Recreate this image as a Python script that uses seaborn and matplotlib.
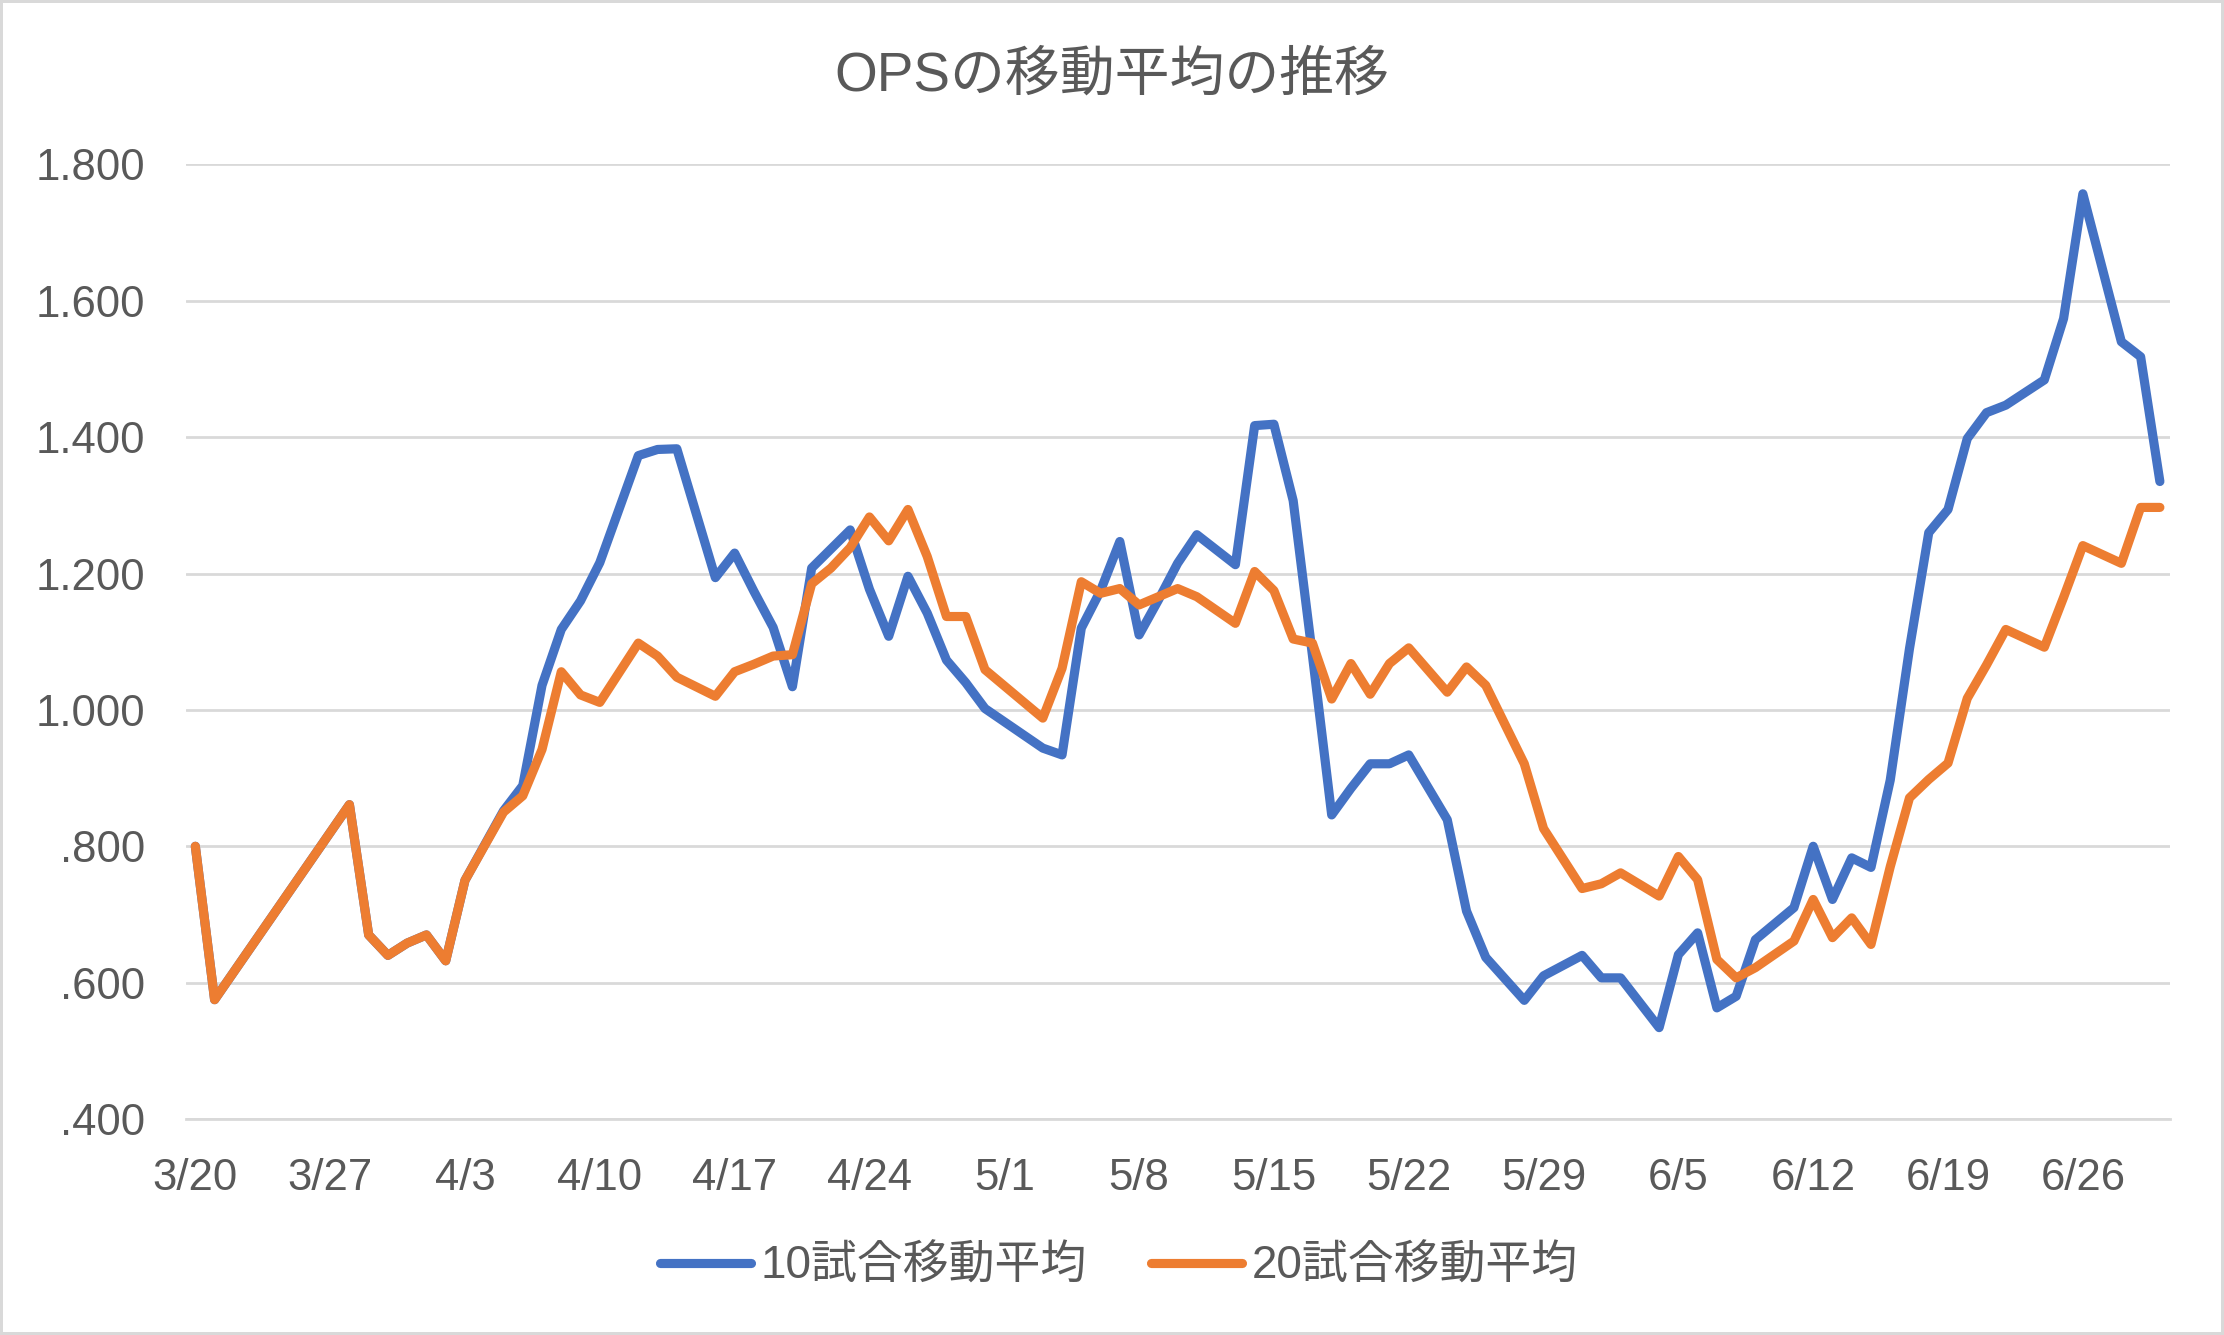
import matplotlib
matplotlib.use("Agg")
import matplotlib.pyplot as plt
import matplotlib.dates as mdates
from matplotlib.ticker import FuncFormatter, FixedLocator
import seaborn as sns
import pandas as pd
import numpy as np

# ---- data ----
game_dates = [
    "2024-03-20", "2024-03-21", "2024-03-28", "2024-03-29", "2024-03-30", "2024-03-31",
    "2024-04-01", "2024-04-02", "2024-04-03", "2024-04-05", "2024-04-06", "2024-04-07",
    "2024-04-08", "2024-04-09", "2024-04-10", "2024-04-12", "2024-04-13", "2024-04-14",
    "2024-04-16", "2024-04-17", "2024-04-18", "2024-04-19", "2024-04-20", "2024-04-21",
    "2024-04-22", "2024-04-23", "2024-04-24", "2024-04-25", "2024-04-26", "2024-04-27",
    "2024-04-28", "2024-04-29", "2024-04-30", "2024-05-03", "2024-05-04", "2024-05-05",
    "2024-05-06", "2024-05-07", "2024-05-08", "2024-05-09", "2024-05-10", "2024-05-11",
    "2024-05-13", "2024-05-14", "2024-05-15", "2024-05-16", "2024-05-17", "2024-05-18",
    "2024-05-19", "2024-05-20", "2024-05-21", "2024-05-22", "2024-05-24", "2024-05-25",
    "2024-05-26", "2024-05-28", "2024-05-29", "2024-05-31", "2024-06-01", "2024-06-02",
    "2024-06-04", "2024-06-05", "2024-06-06", "2024-06-07", "2024-06-08", "2024-06-09",
    "2024-06-11", "2024-06-12", "2024-06-13", "2024-06-14", "2024-06-15", "2024-06-16",
    "2024-06-17", "2024-06-18", "2024-06-19", "2024-06-20", "2024-06-21", "2024-06-22",
    "2024-06-24", "2024-06-25", "2024-06-26", "2024-06-28", "2024-06-29", "2024-06-30",
]

ops_10 = [
    0.800, 0.575, 0.861, 0.670, 0.640, 0.658,
    0.670, 0.632, 0.750, 0.852, 0.889, 1.036,
    1.118, 1.160, 1.216, 1.373, 1.382, 1.383,
    1.194, 1.230, 1.174, 1.121, 1.034, 1.208,
    1.236, 1.264, 1.177, 1.108, 1.196, 1.142,
    1.073, 1.040, 1.002, 0.944, 0.934, 1.120,
    1.175, 1.247, 1.110, 1.161, 1.215, 1.257,
    1.213, 1.417, 1.419, 1.307, 1.080, 0.846,
    0.885, 0.921, 0.921, 0.934, 0.839, 0.705,
    0.637, 0.574, 0.610, 0.640, 0.607, 0.607,
    0.534, 0.641, 0.673, 0.563, 0.580, 0.663,
    0.710, 0.800, 0.722, 0.783, 0.769, 0.897,
    1.090, 1.260, 1.294, 1.398, 1.436, 1.447,
    1.484, 1.574, 1.757, 1.540, 1.518, 1.335,
]

ops_20 = [
    0.800, 0.575, 0.861, 0.670, 0.640, 0.658,
    0.670, 0.632, 0.750, 0.850, 0.874, 0.942,
    1.056, 1.022, 1.011, 1.098, 1.079, 1.048,
    1.020, 1.056, 1.067, 1.079, 1.081, 1.185,
    1.208, 1.238, 1.283, 1.248, 1.294, 1.225,
    1.137, 1.137, 1.059, 0.988, 1.061, 1.188,
    1.171, 1.178, 1.154, 1.166, 1.178, 1.166,
    1.127, 1.203, 1.175, 1.104, 1.098, 1.016,
    1.068, 1.023, 1.068, 1.091, 1.026, 1.063,
    1.036, 0.921, 0.826, 0.738, 0.745, 0.761,
    0.727, 0.785, 0.751, 0.634, 0.607, 0.622,
    0.661, 0.722, 0.666, 0.695, 0.656, 0.770,
    0.871, 0.898, 0.922, 1.017, 1.066, 1.118,
    1.092, 1.165, 1.241, 1.215, 1.297, 1.297,
]

series_names = ["10試合移動平均", "20試合移動平均"]
series_colors = ["#4472C4", "#ED7D31"]
title_text = "OPSの移動平均の推移"
tick_label_dates = ["2024-03-20", "2024-03-27", "2024-04-03", "2024-04-10", "2024-04-17",
                    "2024-04-24", "2024-05-01", "2024-05-08", "2024-05-15", "2024-05-22",
                    "2024-05-29", "2024-06-05", "2024-06-12", "2024-06-19", "2024-06-26"]
y_ticks = [0.4, 0.6, 0.8, 1.0, 1.2, 1.4, 1.6, 1.8]
x_start, x_end = "2024-03-20", "2024-06-30"

# ---- build long table ----
dts = pd.to_datetime(game_dates)
df = pd.concat([
    pd.DataFrame({"date": dts, "ops": ops_10, "series": series_names[0]}),
    pd.DataFrame({"date": dts, "ops": ops_20, "series": series_names[1]}),
], ignore_index=True)

sns.set_theme(style="white")
plt.rcParams["font.family"] = ["Liberation Sans", "Noto Sans CJK JP", "DejaVu Sans"]
TXT = "#595959"
GRID = "#D9D9D9"
LW = 6.6

fig = plt.figure(figsize=(22.24, 13.35), dpi=100)
fig.patch.set_facecolor("white")
fig.patch.set_edgecolor(GRID)
fig.patch.set_linewidth(3)
ax = fig.add_axes([0.0835, 0.1618, 0.892, 0.715])

sns.lineplot(data=df, x="date", y="ops", hue="series", hue_order=series_names,
             palette=series_colors, linewidth=LW, ax=ax, legend=False, sort=True)
for ln in ax.lines:
    ln.set_solid_capstyle("round")
    ln.set_solid_joinstyle("round")

half = pd.Timedelta(hours=12)
ax.set_xlim(pd.Timestamp(x_start) - half, pd.Timestamp(x_end) + half)
ax.set_ylim(y_ticks[0], y_ticks[-1])

# y axis
ax.set_yticks(y_ticks)
ax.yaxis.set_major_formatter(FuncFormatter(
    lambda v, p: (f"{v:.3f}"[1:] if v < 1 else f"{v:.3f}")))
ax.grid(axis="y", color=GRID, linewidth=2.0)
ax.grid(axis="x", visible=False)
ax.set_axisbelow(True)
ax.tick_params(axis="y", length=0, pad=29, labelsize=31.5, labelcolor=TXT)

# x axis: labels at day centers, tick marks at day boundaries
lab = pd.to_datetime(tick_label_dates)
ax.xaxis.set_major_locator(FixedLocator(mdates.date2num(lab)))
ax.xaxis.set_major_formatter(FuncFormatter(
    lambda v, p: f"{mdates.num2date(v).month}/{mdates.num2date(v).day}"))
ax.xaxis.set_minor_locator(FixedLocator(mdates.date2num(lab - half)))
ax.tick_params(axis="x", which="major", length=0, pad=28, labelsize=31.5, labelcolor=TXT)
ax.tick_params(axis="x", which="minor", length=10.5, width=2.0, color=GRID, direction="out")

for s in ["left", "right", "top"]:
    ax.spines[s].set_visible(False)
ax.spines["bottom"].set_color(GRID)
ax.spines["bottom"].set_linewidth(2.0)
ax.set_xlabel("")
ax.set_ylabel("")

fig.text(0.5, 0.943, title_text, ha="center", va="center", fontsize=39.5, color=TXT)

handles = [plt.Line2D([], [], color=c, linewidth=LW, solid_capstyle="round") for c in series_colors]
fig.legend(handles, series_names, loc="center", bbox_to_anchor=(0.503, 0.051), ncol=2,
           frameon=False, fontsize=33, labelcolor=TXT, handlelength=2.0,
           handletextpad=0.2, columnspacing=1.4)

fig.savefig("out.png", dpi=100, facecolor="white", edgecolor=GRID)
